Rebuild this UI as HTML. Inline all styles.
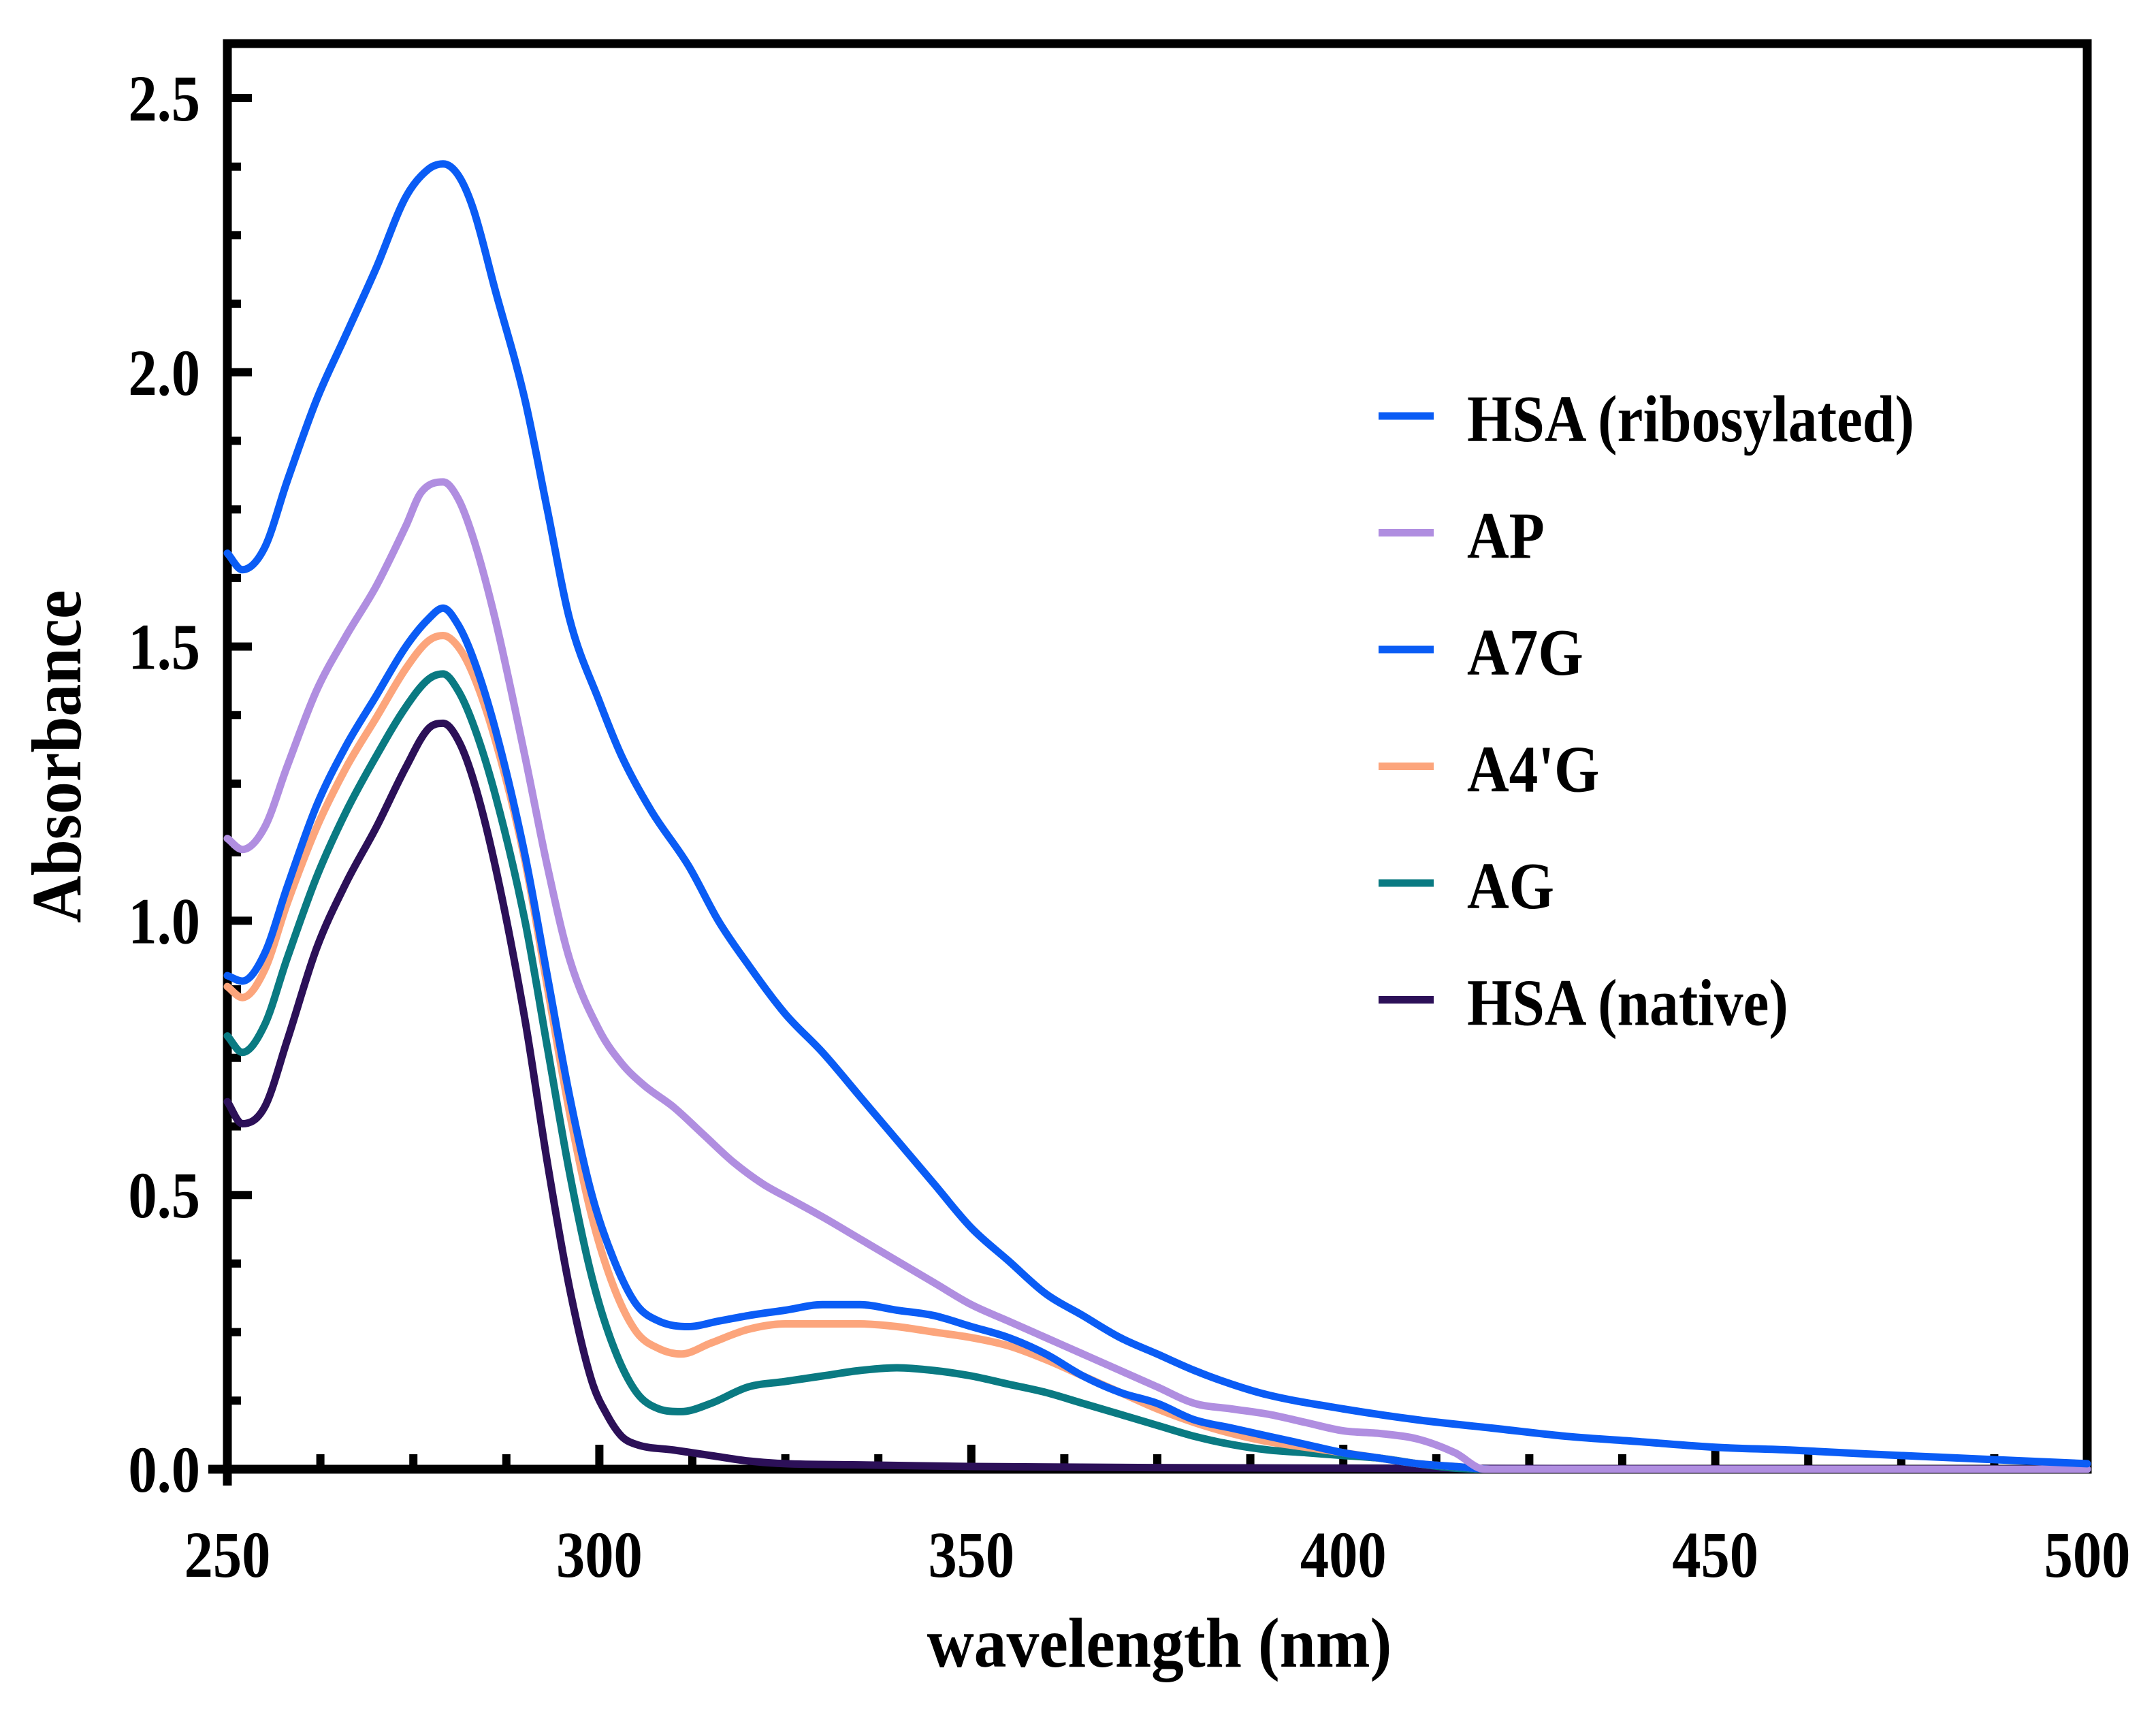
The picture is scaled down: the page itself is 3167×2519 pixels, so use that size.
<!DOCTYPE html>
<html><head><meta charset="utf-8"><style>
html,body{margin:0;padding:0;background:#fff;}
svg{display:block;font-family:"Liberation Serif",serif;font-weight:bold;}
</style></head><body>
<svg id="chart" width="3167" height="2519" viewBox="0 0 3167 2519" xmlns="http://www.w3.org/2000/svg">
<g id="axes"></g>
<g id="series"></g>
<g id="legend"></g>
<g transform="translate(1703,2448) scale(0.92,1)"><text x="0" y="0" font-size="104" text-anchor="middle">wavelength (nm)</text></g>
<g transform="translate(118,1111) rotate(-90) scale(0.92,1)"><text x="0" y="0" font-size="104" text-anchor="middle">Absorbance</text></g>
</svg>
<script>
const xTicks = [250, 300, 350, 400, 450, 500];
const yTicks = [0.0, 0.5, 1.0, 1.5, 2.0, 2.5];
const seriesNames = ["HSA (ribosylated)", "AP", "A7G", "A4'G", "AG", "HSA (native)"];
const seriesColors = ["#0a5cf5", "#b08ee0", "#0a5cf5", "#fca57c", "#0a7a82", "#2c1058"];
const hsaRibX = [250,252,255,258,262,266,270,274,277,279,281,283,286,290,293,296,300,303,307,312,316,320,325,330,335,340,345,350,355,360,365,370,375,380,385,390,400,410,420,430,440,450,460,470,480,490,500];
const hsaRibY = [1.67,1.64,1.68,1.80,1.95,2.07,2.19,2.32,2.37,2.38,2.36,2.30,2.15,1.95,1.75,1.55,1.40,1.30,1.20,1.10,1.00,0.92,0.83,0.76,0.68,0.60,0.52,0.44,0.38,0.32,0.28,0.24,0.21,0.18,0.155,0.135,0.11,0.09,0.075,0.06,0.05,0.04,0.035,0.028,0.022,0.016,0.01];
const apX = [250,252,255,258,262,266,270,274,276,279,281,283,286,290,293,296,300,303,306,310,314,318,322,326,330,335,340,345,350,355,360,365,370,375,380,385,390,395,400,405,410,415,419,500];
const apY = [1.15,1.13,1.17,1.28,1.42,1.52,1.61,1.72,1.78,1.80,1.77,1.70,1.55,1.30,1.10,0.93,0.80,0.74,0.70,0.66,0.61,0.56,0.52,0.49,0.46,0.42,0.38,0.34,0.30,0.27,0.24,0.21,0.18,0.15,0.12,0.11,0.10,0.085,0.07,0.065,0.055,0.03,0.0,0.0];
const a7gX = [250,252,255,258,262,266,270,274,277,279,281,283,286,290,293,296,299,302,305,308,312,316,320,325,330,335,340,345,350,355,360,365,370,375,380,385,390,395,400,405,410,415,420,500];
const a7gY = [0.90,0.89,0.94,1.06,1.21,1.32,1.41,1.50,1.55,1.57,1.54,1.48,1.35,1.12,0.90,0.68,0.50,0.38,0.30,0.27,0.26,0.27,0.28,0.29,0.30,0.30,0.29,0.28,0.26,0.24,0.21,0.17,0.14,0.12,0.09,0.075,0.06,0.045,0.03,0.02,0.01,0.005,0.0,0.0];
const a4gX = [250,252,255,258,262,266,270,274,277,279,281,283,286,290,293,296,299,302,305,308,311,315,320,325,330,335,340,345,350,355,360,365,370,375,380,385,390,395,400,405,410,415,420,500];
const a4gY = [0.88,0.86,0.91,1.03,1.17,1.28,1.37,1.46,1.51,1.52,1.50,1.45,1.33,1.11,0.88,0.65,0.46,0.33,0.25,0.22,0.21,0.23,0.255,0.265,0.265,0.265,0.26,0.25,0.24,0.225,0.20,0.17,0.14,0.11,0.085,0.065,0.05,0.04,0.03,0.02,0.01,0.005,0.0,0.0];
const agX = [250,252,255,258,262,266,270,274,277,279,281,283,286,290,293,296,299,302,305,308,311,315,320,325,330,335,340,345,350,355,360,365,370,375,380,385,390,395,400,405,410,415,420,500];
const agY = [0.79,0.76,0.81,0.93,1.08,1.20,1.30,1.39,1.44,1.45,1.42,1.36,1.23,1.00,0.77,0.54,0.35,0.22,0.14,0.11,0.105,0.12,0.15,0.16,0.17,0.18,0.185,0.18,0.17,0.155,0.14,0.12,0.10,0.08,0.06,0.045,0.035,0.03,0.025,0.02,0.01,0.002,0.0,0.0];
const natX = [250,252,255,258,262,266,270,274,277,279,281,283,286,290,293,296,299,301,303,305,310,315,320,325,335,350,400,500];
const natY = [0.67,0.63,0.66,0.78,0.95,1.07,1.17,1.28,1.35,1.36,1.33,1.26,1.10,0.82,0.56,0.33,0.16,0.10,0.06,0.045,0.035,0.025,0.015,0.01,0.008,0.005,0.002,0.0];

const NS = "http://www.w3.org/2000/svg";
const X0 = 334, X1 = 3066, Y0 = 2158, Y1 = 144, TOP = 64;
function xs(v){ return X0 + (v - 250) / 250 * (X1 - X0); }
function ys(v){ return Y0 - v / 2.5 * (Y0 - Y1); }
function mk(tag, attrs, parent){
  const e = document.createElementNS(NS, tag);
  for (const k in attrs) e.setAttribute(k, attrs[k]);
  parent.appendChild(e);
  return e;
}
function txt(x, y, size, anchor, s, parent){
  const g = mk("g", {transform:`translate(${x},${y}) scale(0.88,1)`}, parent);
  const t = mk("text", {x:0, y:0, "font-size":size, "text-anchor":anchor}, g);
  t.textContent = s;
  return t;
}
// monotone cubic (Fritsch–Carlson) path in x
function smoothPath(p){
  const n = p.length;
  const d = [], m = new Array(n);
  for (let i = 0; i < n - 1; i++) d.push((p[i+1][1] - p[i][1]) / (p[i+1][0] - p[i][0]));
  m[0] = d[0]; m[n-1] = d[n-2];
  for (let i = 1; i < n - 1; i++) m[i] = (d[i-1] * d[i] <= 0) ? 0 : (d[i-1] + d[i]) / 2;
  for (let i = 0; i < n - 1; i++) {
    if (d[i] === 0) { m[i] = 0; m[i+1] = 0; continue; }
    const a = m[i] / d[i], b = m[i+1] / d[i], s = a*a + b*b;
    if (s > 9) { const t = 3 / Math.sqrt(s); m[i] = t*a*d[i]; m[i+1] = t*b*d[i]; }
  }
  let path = `M${p[0][0].toFixed(1)},${p[0][1].toFixed(1)}`;
  for (let i = 0; i < n - 1; i++) {
    const h = (p[i+1][0] - p[i][0]) / 3;
    path += ` C${(p[i][0]+h).toFixed(1)},${(p[i][1]+m[i]*h).toFixed(1)} ${(p[i+1][0]-h).toFixed(1)},${(p[i+1][1]-m[i+1]*h).toFixed(1)} ${p[i+1][0].toFixed(1)},${p[i+1][1].toFixed(1)}`;
  }
  return path;
}
const axes = document.getElementById("axes");
const frame = mk("path", {d:`M${X0},${Y0+24} L${X0},${TOP} L${X1},${TOP} L${X1},${Y0} L${X0-28},${Y0}`, fill:"none", stroke:"#000", "stroke-width":13, "stroke-linejoin":"miter"}, axes);


for (let i = 1; i < 20; i++) {
  const v = 250 + i * 12.5;
  const major = (i % 4 === 0);
  const t = mk("line", {x1:xs(v), x2:xs(v), y1:Y0, y2:Y0 - (major ? 36 : 22), stroke:"#000", "stroke-width":12}, axes);
  
  
}
xTicks.forEach(v => {
  const t = txt(xs(v), 2316, 96, "middle", String(v), axes);
  
  
});
for (let i = 1; i <= 20; i++) {
  const v = i * 0.125;
  const major = (i % 4 === 0);
  const t = mk("line", {x1:X0, x2:X0 + (major ? 36 : 20), y1:ys(v), y2:ys(v), stroke:"#000", "stroke-width":12}, axes);
  
  
}
yTicks.forEach(v => {
  const t = txt(294, ys(v) + 33, 96, "end", v.toFixed(1), axes);
  
  
});
const sg = document.getElementById("series");
const seriesData = [[natX,natY,5],[agX,agY,4],[a4gX,a4gY,3],[a7gX,a7gY,2],[apX,apY,1],[hsaRibX,hsaRibY,0]];
seriesData.forEach(([xa, ya, idx]) => {
  const pts = xa.map((x, i) => [xs(x), ys(ya[i])]);
  const p = mk("path", {d:smoothPath(pts), fill:"none", stroke:seriesColors[idx], "stroke-width":11, "stroke-linejoin":"round", "stroke-linecap":"round"}, sg);
  
  
});
const lg = document.getElementById("legend");
seriesNames.forEach((n, i) => {
  const y = 611 + i * 171.5;
  const l = mk("line", {x1:2025, x2:2106, y1:y, y2:y, stroke:seriesColors[i], "stroke-width":11}, lg);
  
  
  const t = txt(2155, y + 37, 97, "start", n, lg);
  
  
});
</script>
</body></html>
